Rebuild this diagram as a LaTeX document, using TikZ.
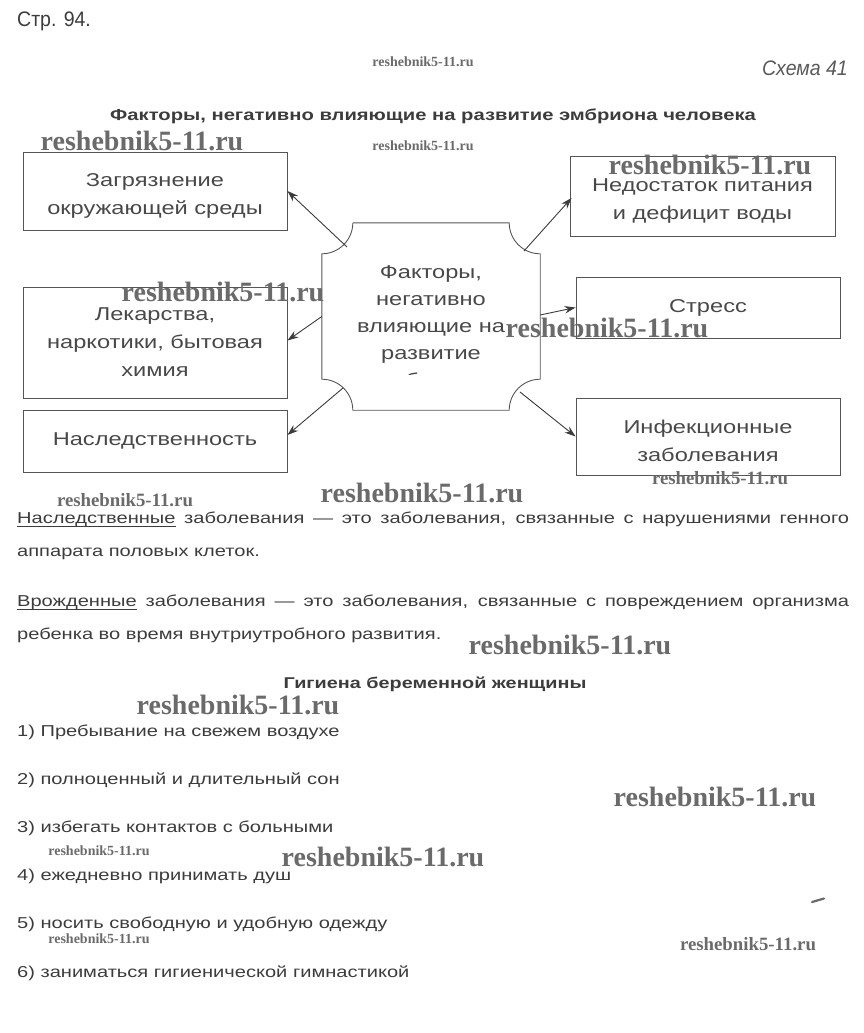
\documentclass[tikz,border=0pt]{standalone}
\usepackage{fontspec}
\setmainfont{Liberation Sans}
\newfontfamily\widefont[FakeStretch=1.27]{Liberation Sans}
\newfontfamily\narrowfont[FakeStretch=0.93]{Liberation Sans}
\newfontfamily\wmfont{Liberation Serif}
\usetikzlibrary{arrows.meta,calc}
\definecolor{txt}{HTML}{3C3C3C}
\definecolor{boxtxt}{HTML}{484848}
\definecolor{boxline}{HTML}{555555}
\definecolor{wm}{HTML}{6A6A6A}
\newcommand\myul[1]{\setbox0\hbox{#1}\rlap{\rule[-3.5pt]{\wd0}{1.3pt}}\box0\relax}
\newcommand\upstrut[1]{\rule{0pt}{#1}}
\begin{document}
\begin{tikzpicture}[x=1pt,y=-1pt,
  box/.style={draw=boxline, line width=0.9pt, minimum width=264pt, inner sep=0pt,
    align=center, font=\widefont\fontsize{18.6}{28}\selectfont, text=boxtxt},
  arr/.style={draw=txt, line width=0.9pt, -{Stealth[length=11pt,width=7.5pt]}},
  wmbig/.style={font=\wmfont\bfseries\fontsize{28}{28}\selectfont, text=wm, inner sep=0pt},
  wmmid/.style={font=\wmfont\bfseries\fontsize{18.8}{19}\selectfont, text=wm, inner sep=0pt},
  wmsmall/.style={font=\wmfont\bfseries\fontsize{14}{14}\selectfont, text=wm, inner sep=0pt},
  body/.style={font=\widefont\fontsize{15.8}{33}\selectfont, text=txt, inner sep=0pt},
  head/.style={font=\widefont\bfseries\fontsize{15.9}{20}\selectfont, text=txt, inner sep=0pt}
]
\useasboundingbox (0,0) rectangle (863,1033);

% header
\node[font=\narrowfont\fontsize{21}{22}\selectfont, text=txt, inner sep=0pt, anchor=base west] (page) at (17,26.5) {Стр. 94.};
\node[font=\narrowfont\itshape\fontsize{21}{22}\selectfont, text=txt!85, inner sep=0pt, anchor=base east] (schema) at (848,75.5) {Схема 41};
\node[head, anchor=base] (title) at (433,120.7) {Факторы, негативно влияющие на развитие эмбриона человека};

% boxes
\node[box, minimum height=78pt] (b1) at (155,191) {\upstrut{23pt}Загрязнение\\окружающей среды};
\node[box, minimum height=111pt] (b2) at (155,342.5) {Лекарства,\\наркотики, бытовая\\химия};
\node[box, minimum height=62pt] (b3) at (155,441) {Наследственность};
\node[box, minimum width=265pt, minimum height=80pt] (b4) at (702.5,196) {\upstrut{22pt}Недостаток питания\\и дефицит воды};
\node[box, minimum height=61pt] (b5) at (708,307.5) {Стресс};
\node[box, minimum height=77pt] (b6) at (708,436.5) {\upstrut{22pt}Инфекционные\\заболевания};

% central shape
\node[minimum width=218pt, minimum height=187pt, inner sep=0pt] (c) at (431,316.5) {};
\draw[boxline, line width=0.9pt]
  ($(c.north west)+(31,0)$) -- ($(c.north east)+(-31,0)$)
  arc[start angle=180, end angle=90, radius=31]
  -- ($(c.south east)+(0,-31)$)
  arc[start angle=270, end angle=180, radius=31]
  -- ($(c.south west)+(31,0)$)
  arc[start angle=0, end angle=-90, radius=31]
  -- ($(c.north west)+(0,31)$)
  arc[start angle=90, end angle=0, radius=31];
\begin{scope}
  \clip (322,223) rectangle (540,374.5);
  \node[anchor=base, align=center, font=\widefont\fontsize{18.6}{27}\selectfont, text=boxtxt, inner sep=0pt] (ct) at (431,386.6)
    {Факторы,\\негативно\\влияющие на\\развитие\\эмбриона};
\end{scope}

\coordinate (s1) at (347,247);
\coordinate (s3) at (343,388);
\coordinate (s4) at (524,251);
\coordinate (s6) at (520,392);
\draw[arr] (s1) -- (b1.east);
\draw[arr] (c.west) -- ($(b2.east)+(0,-2)$);
\draw[arr] (s3) -- ($(b3.east)+(0,-6)$);
\draw[arr] (s4) -- ($(b4.west)+(2,2)$);
\draw[arr] ($(c.east)+(0,-1.5)$) -- (b5.west);
\draw[arr] (s6) -- (b6.west);

% definitions
\node[body, anchor=base west, text width=832pt, align=justify] (p1) at (17,523.7)
  {\myul{Наследственные} заболевания — это заболевания, связанные с нарушениями генного\linebreak аппарата половых клеток.};
\node[body, anchor=base west, text width=832pt, align=justify] (p2) at (17,606.7)
  {\myul{Врожденные} заболевания — это заболевания, связанные с повреждением организма\linebreak ребенка во время внутриутробного развития.};

% hygiene
\node[head, font=\widefont\bfseries\fontsize{15.6}{20}\selectfont, anchor=base] (hyg) at (435,688.6) {Гигиена беременной женщины};
\node[body, anchor=base west] (i1) at (17,736.7) {1) Пребывание на свежем воздухе};
\node[body, anchor=base west] (i2) at (17,784.7) {2) полноценный и длительный сон};
\node[body, anchor=base west] (i3) at (17,832.7) {3) избегать контактов с больными};
\node[body, anchor=base west] (i4) at (17,880.7) {4) ежедневно принимать душ};
\node[body, anchor=base west] (i5) at (17,928.7) {5) носить свободную и удобную одежду};
\node[body, anchor=base west] (i6) at (17,977.2) {6) заниматься гигиенической гимнастикой};

% watermarks
\node[wmsmall] (w1) at (423,62) {reshebnik5-11.ru};
\node[wmbig] (w2) at (142,141) {reshebnik5-11.ru};
\node[wmsmall] (w3) at (423,146) {reshebnik5-11.ru};
\node[wmbig] (w4) at (710,165) {reshebnik5-11.ru};
\node[wmbig] (w5) at (223,292) {reshebnik5-11.ru};
\node[wmbig] (w6) at (607,328) {reshebnik5-11.ru};
\node[wmmid] (w7) at (720,478) {reshebnik5-11.ru};
\node[wmmid] (w8) at (125,500) {reshebnik5-11.ru};
\node[wmbig] (w9) at (422,493) {reshebnik5-11.ru};
\node[wmbig] (w10) at (570,645) {reshebnik5-11.ru};
\node[wmbig] (w11) at (238,705) {reshebnik5-11.ru};
\node[wmbig] (w12) at (715,797) {reshebnik5-11.ru};
\node[wmsmall] (w13) at (99,851) {reshebnik5-11.ru};
\node[wmbig] (w14) at (383,857) {reshebnik5-11.ru};
\node[wmsmall] (w15) at (99,939) {reshebnik5-11.ru};
\node[wmmid] (w16) at (748,944) {reshebnik5-11.ru};
\draw[wm, line width=2.2pt, line cap=round] (812,902) -- (824,898.5);
\end{tikzpicture}
\end{document}
